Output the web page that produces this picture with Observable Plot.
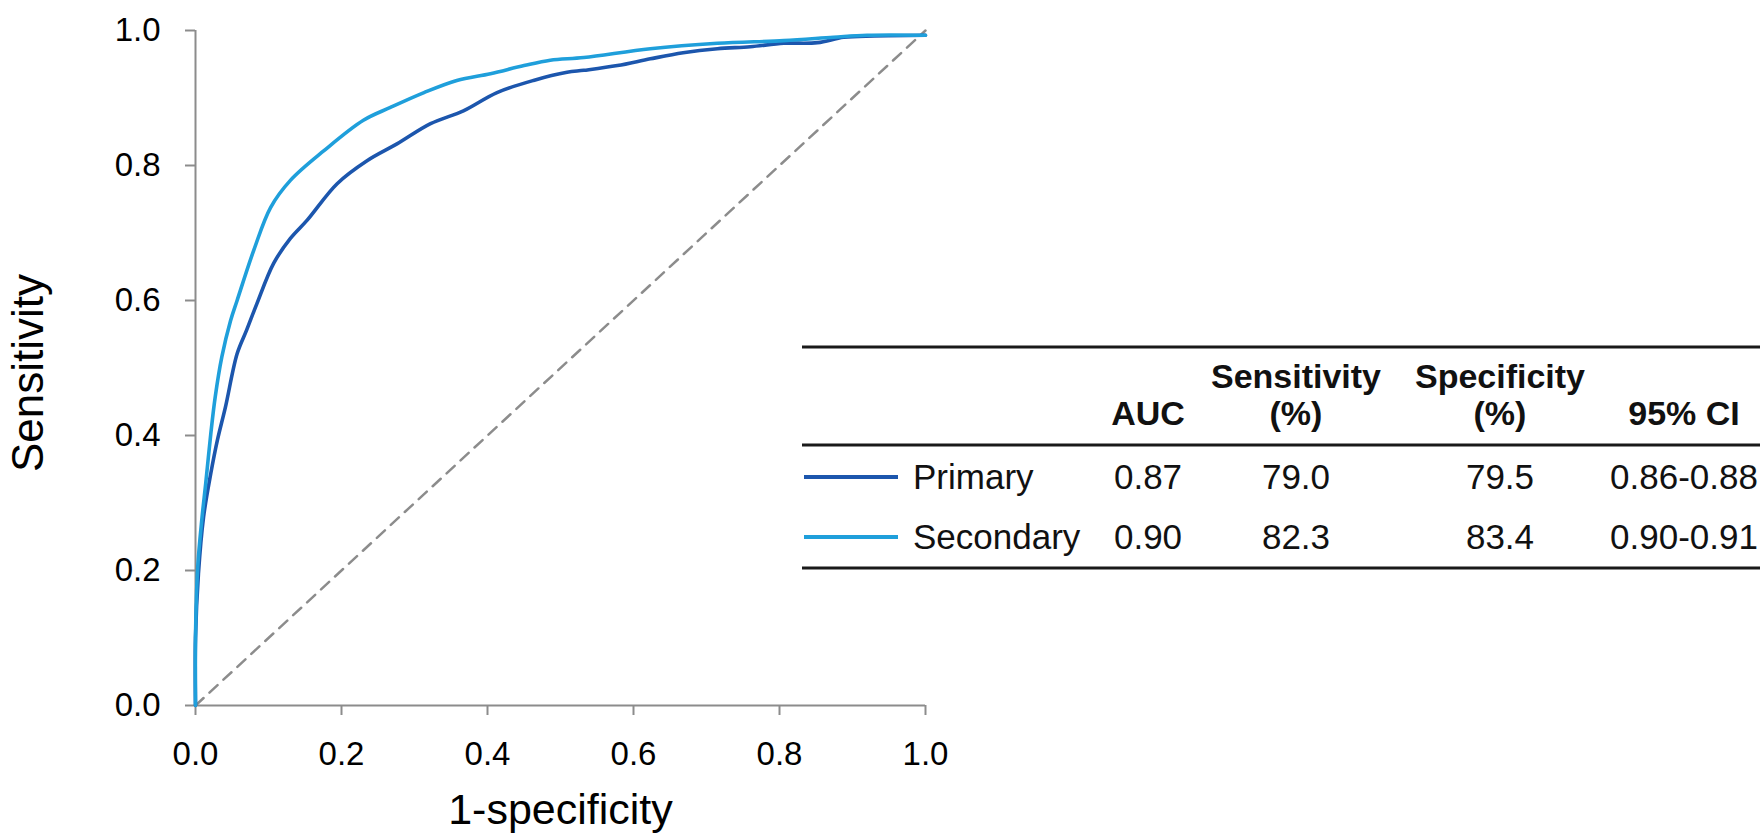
<!DOCTYPE html>
<html>
<head>
<meta charset="utf-8">
<script src="https://cdn.jsdelivr.net/npm/d3@7"></script>
<script src="https://cdn.jsdelivr.net/npm/@observablehq/plot@0.6"></script>
<style>
  html, body { margin: 0; padding: 0; background: #fff; }
  #wrap { position: relative; width: 1760px; height: 836px; overflow: hidden; font-family: "Liberation Sans", Arial, sans-serif; }
  #table { position: absolute; left: 0; top: 0; pointer-events: none; }
</style>
</head>
<body>
<div id="wrap"></div>
<script>
// ---- Data ----
const fprPrimary = [0, 0, 0.004, 0.011, 0.021, 0.030, 0.041, 0.057, 0.070, 0.084, 0.107, 0.130, 0.153, 0.194, 0.235, 0.276, 0.322, 0.367, 0.413, 0.463, 0.509, 0.532, 0.578, 0.623, 0.668, 0.715, 0.760, 0.806, 0.852, 0.888, 0.930, 1.0];
const tprPrimary = [0, 0.100, 0.195, 0.279, 0.344, 0.393, 0.442, 0.521, 0.556, 0.595, 0.655, 0.692, 0.719, 0.773, 0.807, 0.832, 0.862, 0.881, 0.908, 0.926, 0.938, 0.941, 0.948, 0.958, 0.967, 0.973, 0.976, 0.981, 0.982, 0.990, 0.992, 0.993];

const fprSecondary = [0, 0, 0.003, 0.009, 0.014, 0.021, 0.027, 0.036, 0.048, 0.057, 0.080, 0.103, 0.130, 0.176, 0.230, 0.267, 0.313, 0.358, 0.404, 0.450, 0.486, 0.532, 0.623, 0.715, 0.806, 0.874, 0.920, 1.0];
const tprSecondary = [0, 0.100, 0.204, 0.279, 0.329, 0.403, 0.457, 0.516, 0.570, 0.600, 0.675, 0.738, 0.778, 0.822, 0.867, 0.886, 0.908, 0.926, 0.936, 0.948, 0.956, 0.960, 0.973, 0.981, 0.985, 0.990, 0.993, 0.993];

const chanceLine = [0, 1];

const xTicks = [0, 0.2, 0.4, 0.6, 0.8, 1.0];
const yTicks = [0, 0.2, 0.4, 0.6, 0.8, 1.0];
const xTitle = "1-specificity";
const yTitle = "Sensitivity";

const seriesNames = ["Primary", "Secondary"];
const seriesColors = ["#1c56ad", "#1f9fdb"];
const aucValues = ["0.87", "0.90"];
const sensValues = ["79.0", "82.3"];
const specValues = ["79.5", "83.4"];
const ciValues = ["0.86-0.88", "0.90-0.91"];
const headerLine1 = ["", "Sensitivity", "Specificity", ""];
const headerLine2 = ["AUC", "(%)", "(%)", "95% CI"];

// ---- Chart ----
const axisGray = "#8c8c8c";
const font = "'Liberation Sans', Arial, sans-serif";

const chart = Plot.plot({
  width: 1760,
  height: 836,
  marginLeft: 195,
  marginRight: 835,
  marginTop: 30,
  marginBottom: 131,
  style: { fontFamily: font, fontSize: "33px", background: "white", color: "black", overflow: "visible" },
  x: { domain: [0, 1], label: null },
  y: { domain: [0, 1], label: null },
  marks: [
    Plot.line(chanceLine, { x: chanceLine, y: chanceLine, stroke: axisGray, strokeWidth: 2.5, strokeDasharray: "11,8" }),
    Plot.ruleX([0], { stroke: axisGray, strokeWidth: 2 }),
    Plot.ruleY([0], { stroke: axisGray, strokeWidth: 2 }),
    Plot.axisX({ ticks: xTicks, tickFormat: d => d.toFixed(1), tickSize: 10, tickPadding: 26, stroke: axisGray, strokeWidth: 2, fill: "black", fontSize: 33, label: null }),
    Plot.axisY({ ticks: yTicks, tickFormat: d => d.toFixed(1), tickSize: 10, tickPadding: 25, stroke: axisGray, strokeWidth: 2, fill: "black", fontSize: 33, label: null }),
    Plot.line(fprPrimary, { x: fprPrimary, y: tprPrimary, stroke: seriesColors[0], strokeWidth: 3.6, curve: "catmull-rom" }),
    Plot.line(fprSecondary, { x: fprSecondary, y: tprSecondary, stroke: seriesColors[1], strokeWidth: 3.6, curve: "catmull-rom" }),
    Plot.text([xTitle], { frameAnchor: "bottom", dy: 105, text: d => d, fontSize: 43, fill: "black", textAnchor: "middle", lineAnchor: "middle" }),
    Plot.text([yTitle], { frameAnchor: "left", dx: -167, dy: 5, rotate: -90, text: d => d, fontSize: 44, fill: "black", textAnchor: "middle", lineAnchor: "middle" })
  ]
});
document.getElementById("wrap").appendChild(chart);

// ---- Table legend (overlay) ----
const svg = d3.select("#wrap").append("svg")
  .attr("id", "table")
  .attr("width", 1760).attr("height", 836)
  .style("font-family", font);

const tLeft = 802, tRight = 1760;
const rules = [347, 445, 568];
svg.selectAll("line.rule").data(rules).join("line")
  .attr("class", "rule")
  .attr("x1", tLeft).attr("x2", tRight)
  .attr("y1", d => d).attr("y2", d => d)
  .attr("stroke", "#1a1a1a").attr("stroke-width", 3);

const colX = [1148, 1296, 1500, 1684];
const hdr = svg.append("g").attr("font-weight", "bold").attr("font-size", 34).attr("fill", "#111").attr("text-anchor", "middle");
headerLine1.forEach((t, i) => { if (t) hdr.append("text").attr("x", colX[i]).attr("y", 388).text(t); });
headerLine2.forEach((t, i) => { if (t) hdr.append("text").attr("x", colX[i]).attr("y", 425).text(t); });

const rowY = [489, 549];
seriesNames.forEach((name, i) => {
  const y = rowY[i];
  svg.append("line").attr("x1", 804).attr("x2", 898).attr("y1", y - 12).attr("y2", y - 12)
    .attr("stroke", seriesColors[i]).attr("stroke-width", 4);
  const g = svg.append("g").attr("font-size", 35).attr("fill", "#111");
  g.append("text").attr("x", 913).attr("y", y).text(name);
  const vals = [aucValues[i], sensValues[i], specValues[i], ciValues[i]];
  vals.forEach((v, j) => g.append("text").attr("x", colX[j]).attr("y", y).attr("text-anchor", "middle").text(v));
});
</script>
</body>
</html>
